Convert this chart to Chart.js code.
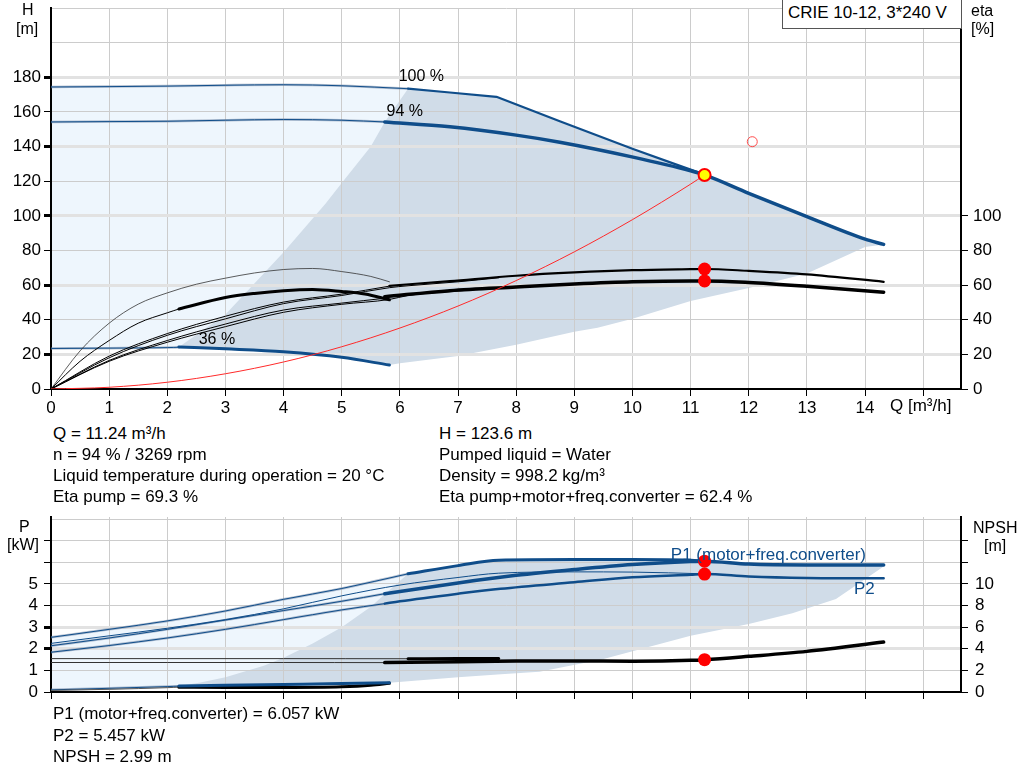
<!DOCTYPE html>
<html>
<head>
<meta charset="utf-8">
<script src="https://cdn.jsdelivr.net/npm/chart.js@4.4.1/dist/chart.umd.min.js"></script>
<style>
  body { margin: 0; background: #fff; width: 1024px; height: 781px; overflow: hidden; position: relative;
         font-family: "Liberation Sans", Arial, sans-serif; font-size: 17px; color: #000; }
  canvas { position: absolute; left: 0; }
  .t { position: absolute; white-space: nowrap; line-height: 18px; }
  .s { font-size: 16px; }
  .box { position: absolute; left: 782px; top: -1px; width: 173px; height: 28px; border: 1px solid #555;
         background: #fff; padding-left: 5px; line-height: 18px; box-sizing: content-box; }
  .box span { position: relative; top: 4px; }
</style>
</head>
<body>
<canvas id="hq" width="1024" height="420" style="top:0"></canvas>
<canvas id="pq" width="1024" height="200" style="top:505px"></canvas>

<div class="box"><span>CRIE 10-12, 3*240 V</span></div>

<div class="t s" style="left:22px;top:1px">H</div>
<div class="t s" style="left:16px;top:20px">[m]</div>
<div class="t s" style="left:971px;top:2px">eta</div>
<div class="t s" style="left:971px;top:20px">[%]</div>
<div class="t" style="left:890px;top:397px">Q [m³/h]</div>

<div class="t" style="left:53px;top:425px">Q = 11.24 m³/h</div>
<div class="t" style="left:53px;top:446px">n = 94 % / 3269 rpm</div>
<div class="t" style="left:53px;top:467px">Liquid temperature during operation = 20 °C</div>
<div class="t" style="left:53px;top:488px">Eta pump = 69.3 %</div>
<div class="t" style="left:439px;top:425px">H = 123.6 m</div>
<div class="t" style="left:439px;top:446px">Pumped liquid = Water</div>
<div class="t" style="left:439px;top:467px">Density = 998.2 kg/m³</div>
<div class="t" style="left:439px;top:488px">Eta pump+motor+freq.converter = 62.4 %</div>

<div class="t s" style="left:19px;top:518px">P</div>
<div class="t s" style="left:7px;top:536px">[kW]</div>
<div class="t s" style="left:973px;top:519px">NPSH</div>
<div class="t s" style="left:984px;top:537px">[m]</div>

<div class="t" style="left:53px;top:705px">P1 (motor+freq.converter) = 6.057 kW</div>
<div class="t" style="left:53px;top:727px">P2 = 5.457 kW</div>
<div class="t" style="left:53px;top:748px">NPSH = 2.99 m</div>

<script>
// ---- tick labels ----
const qTickLabels = [0, 1, 2, 3, 4, 5, 6, 7, 8, 9, 10, 11, 12, 13, 14];
const hTickLabels = [0, 20, 40, 60, 80, 100, 120, 140, 160, 180];
const etaTickLabels = [0, 20, 40, 60, 80, 100];
const pTickLabels = [0, 1, 2, 3, 4, 5];
const pTickMarks = [0, 1, 2, 3, 4, 5, 6, 7];
const npshTickLabels = [0, 2, 4, 6, 8, 10];
const npshTickMarks = [0, 2, 4, 6, 8, 10, 12, 14];

// ---- H-Q curves [Q m3/h, H m] ----
const h100Thin = [[0, 174.4], [1, 174.6], [2, 174.9], [3, 175.4], [4, 175.7], [5, 175.1], [6.14, 173.4]];
const h100Thick = [[6.14, 173.4], [6.86, 171.2], [7.66, 168.7], [8.75, 154.6], [10.01, 138.6], [10.83, 128.7], [11.24, 123.8]];
const h94Thin = [[0, 154.2], [1, 154.4], [2, 154.6], [3, 155.2], [4, 155.6], [5, 155.2], [5.74, 154.2]];
const h94Thick = [[5.74, 154.2], [6.86, 151.4], [8, 146.6], [8.75, 142.5], [10.01, 133.9], [11, 126], [11.24, 123.6],
                  [12, 113], [13, 99.5], [14, 86.5], [14.32, 83.5]];
const h36Thin = [[0, 23.4], [1, 23.6], [2, 23.9], [2.2, 24.1]];
const h36Thick = [[2.2, 24.3], [3, 23.2], [4, 21.5], [5, 18.3], [5.82, 13.8]];
const systemCurve = [[0, 0], [1, 1], [2, 3.9], [3, 8.8], [4, 15.6], [5, 24.4], [6, 35.2], [7, 47.9], [8, 62.6],
                     [9, 79.2], [10, 97.8], [11, 118.3], [11.24, 123.6]];

// operating ranges (outline of the areas)
const hRangeLight = [[0, 23.4], [2.2, 24.3], [3, 23.2], [4, 21.5], [5, 18.3], [5.82, 13.8], [6.14, 173.4],
                     [5, 175.1], [4, 175.7], [3, 175.4], [2, 174.9], [1, 174.6], [0, 174.4], [0, 23.4]];
const hRangeDark = [[2.2, 24.3], [3, 43], [4, 79], [4.72, 107], [5, 119], [5.5, 140], [5.74, 154.2], [6.14, 173.4],
                    [6.86, 171.2], [7.66, 168.7], [8.75, 154.6], [10.01, 138.6], [10.83, 128.7], [11.24, 123.6],
                    [12, 113], [13, 99.5], [14, 86.5], [14.32, 83.5], [14, 82], [13, 66.7], [12, 58.3], [11, 50.8],
                    [10, 40.6], [9.4, 35.3], [9, 33], [8, 25.6], [7, 19], [6, 14.8], [5.82, 13.8], [5, 18.3],
                    [4, 21.5], [3, 23.2], [2.2, 24.3]];

// ---- efficiency curves [Q, eta %] ----
const etaPump94Thin = [[0, 0], [1, 19], [2, 32], [3, 42], [4, 50.2], [5, 54.8], [5.82, 59.4]];
const etaPump94Thick = [[5.82, 59.6], [6.86, 62.3], [8, 65.4], [9, 67.3], [10, 68.6], [11, 69.2], [11.24, 69.3],
                        [12, 68.2], [13, 66.2], [14.32, 61.9]];
const etaPump100Thin = [[0, 0], [1, 18], [2, 31], [3, 40.5], [4, 49.3], [5, 54], [5.82, 58.5], [6.14, 59.6],
                        [7, 61.9], [7.7, 64.2]];
const etaTot94Thin = [[0, 0], [1, 16.5], [2, 28], [3, 37.5], [4, 45.6], [5, 49.6], [5.74, 52.4]];
const etaTot94Thick = [[5.74, 53.3], [6.86, 56.8], [8, 58.9], [9, 60.6], [10, 61.9], [11, 62.4], [11.24, 62.4],
                       [12, 61.5], [13, 59.3], [14.32, 55.9]];
const etaTot100Thin = [[0, 0], [1, 16], [2, 27], [3, 36], [4, 44.3], [5, 48.9], [5.82, 51.7], [6.14, 54],
                       [7, 56.6], [7.7, 58.2]];
const etaPump36 = [[0, 0], [0.5, 22], [1, 38], [1.5, 49], [2, 55.5], [2.5, 60.5], [3, 64], [3.5, 67], [4, 69],
                   [4.5, 69.6], [5, 67.8], [5.5, 65], [5.82, 61.9]];
const etaTot36Thin = [[0, 0], [0.5, 16], [1, 28], [1.5, 38], [2, 44], [2.2, 46.2]];
const etaTot36Thick = [[2.2, 46.2], [3, 52.8], [3.5, 55.2], [4, 56.8], [4.5, 57.5], [5, 56.3], [5.4, 54.8], [5.82, 51.5]];

// ---- power curves [Q, P kW] ----
const p1_100Thin = [[0, 2.53], [1, 2.9], [2, 3.29], [3, 3.75], [4, 4.29], [5, 4.79], [6.14, 5.47]];
const p1_100Thick = [[6.14, 5.47], [7, 5.85], [7.7, 6.1], [9, 6.13], [10, 6.13], [11, 6.1], [11.24, 6.057]];
const p1_94Thin = [[0, 2.14], [1, 2.5], [2, 2.9], [3, 3.33], [4, 3.77], [5, 4.2], [5.74, 4.55]];
const p1_94Thick = [[5.74, 4.55], [6, 4.65], [7, 5.05], [8, 5.4], [9, 5.67], [10, 5.9], [11, 6.04], [11.24, 6.057],
                    [12, 5.92], [13, 5.88], [14.32, 5.88]];
const p2_100Thin = [[0, 2.25], [1, 2.6], [2, 2.95], [3, 3.35], [4, 3.85], [5, 4.45], [6, 4.95], [7, 5.3], [7.7, 5.5],
                    [9, 5.56], [10, 5.55], [11.24, 5.47]];
const p2_94Thin = [[0, 1.84], [1, 2.15], [2, 2.5], [3, 2.9], [4, 3.35], [5, 3.8], [5.74, 4.09]];
const p2_94Thick = [[5.74, 4.09], [6, 4.2], [7, 4.55], [7.73, 4.78], [9, 5.08], [10, 5.31], [11, 5.43], [11.24, 5.457],
                    [12, 5.35], [13, 5.28], [14.32, 5.26]];
const p36Thin = [[0, 0.1], [1, 0.17], [2, 0.25], [2.2, 0.27]];
const p36Thick = [[2.2, 0.28], [3, 0.31], [4, 0.35], [5, 0.39], [5.82, 0.43]];
const pRangeLight = [[0, 0.1], [2.2, 0.28], [3, 0.31], [4, 0.35], [5, 0.39], [5.82, 0.43], [6.14, 5.47], [5, 4.79],
                     [4, 4.29], [3, 3.75], [2, 3.29], [1, 2.9], [0, 2.53], [0, 0.1]];
const pRangeDark = [[2.2, 0.28], [2.57, 0.44], [3, 0.68], [3.66, 1.22], [4, 1.58], [4.5, 2.25], [5, 3.0], [5.5, 3.95],
                    [5.74, 4.52], [6.14, 5.47], [7, 5.85], [7.7, 6.1], [9, 6.13], [10, 6.13], [11, 6.1], [11.24, 6.057],
                    [12, 5.92], [13, 5.88], [14.32, 5.88], [14.3, 5.77], [13.5, 4.3], [12.75, 3.65], [12, 3.15],
                    [11, 2.6], [9.47, 1.5], [8.4, 0.94], [7.74, 0.82], [7, 0.68], [5.82, 0.43], [5, 0.39], [4, 0.35],
                    [3, 0.31], [2.2, 0.28]];

// ---- NPSH curves [Q, NPSH m] ----
const npsh100Thin = [[0, 3.09], [2, 3.09], [4, 3.09], [6.14, 3.08]];
const npsh100Thick = [[6.14, 3.08], [7, 3.1], [7.7, 3.1]];
const npsh94Thin = [[0, 2.73], [2, 2.73], [4, 2.73], [5.74, 2.72]];
const npsh94Thick = [[5.74, 2.72], [7, 2.8], [8, 2.86], [9, 2.87], [10, 2.85], [11, 2.93], [11.24, 2.99], [12, 3.3],
                     [13, 3.76], [14.32, 4.62]];
const npsh36Thin = [[0, 0.15], [1, 0.25], [2, 0.4], [2.2, 0.45]];
const npsh36Thick = [[2.2, 0.45], [3, 0.42], [4, 0.42], [5, 0.48], [5.5, 0.62], [5.82, 0.8]];

// ---- duty point ----
const dutyH = [[11.24, 123.6]];
const requestedH = [[12.06, 142.8]];
const dutyEta = [[11.24, 69.3], [11.24, 62.4]];
const dutyP = [[11.24, 6.057], [11.24, 5.457]];
const dutyNpsh = [[11.24, 2.99]];

const FONT = '"Liberation Sans", Arial, sans-serif';
const BLUE = '#0f4d8a';
const HALO = 'rgba(120,140,170,0.55)';
const DARK_AREA = '#d0dce8';
const LIGHT_AREA = '#eef6fd';

Chart.defaults.font.family = FONT;
Chart.defaults.font.size = 17;
Chart.defaults.color = '#000';
Chart.defaults.animation = false;

const pts = arr => arr.map(([x, y]) => ({ x, y }));

function curve(arr, color, width, axis, order = 10) {
  return { data: pts(arr), borderColor: color, borderWidth: width, yAxisID: axis, pointRadius: 0,
           fill: false, cubicInterpolationMode: 'monotone', borderCapStyle: 'round', order };
}
function straight(arr, color, width, axis, order = 10) {
  return { ...curve(arr, color, width, axis, order), cubicInterpolationMode: 'default', tension: 0,
           borderJoinStyle: 'round' };
}
function thinBlue(arr, axis) {
  return [curve(arr, HALO, 2.5, axis, 13), curve(arr, BLUE, 1, axis, 12)];
}
function area(arr, color, axis, order) {
  return { data: pts(arr), borderWidth: 0, borderColor: 'rgba(0,0,0,0)', backgroundColor: color, fill: 'shape',
           yAxisID: axis, pointRadius: 0, tension: 0, order };
}
function dots(arr, bg, border, radius, width, axis) {
  return { data: pts(arr), showLine: false, yAxisID: axis, pointRadius: radius, pointBackgroundColor: bg,
           pointBorderColor: border, pointBorderWidth: width, order: 0 };
}

// draws the curve names at data positions
const curveText = {
  id: 'curveText',
  afterDatasetsDraw(chart, args, opts) {
    const ctx = chart.ctx;
    ctx.save();
    ctx.textBaseline = 'alphabetic';
    for (const l of opts.items || []) {
      ctx.font = l.size + 'px ' + FONT;
      ctx.fillStyle = l.color;
      ctx.fillText(l.text, chart.scales.x.getPixelForValue(l.q), chart.scales[l.axis].getPixelForValue(l.v));
    }
    ctx.restore();
  }
};

const has = (list, c) => c.tick && list.includes(c.tick.value);

function xScale(showLabels, height) {
  return {
    type: 'linear', min: 0, max: 15.65,
    ticks: { stepSize: 1, includeBounds: false, padding: 2, maxRotation: 0, autoSkip: false,
             callback: v => (showLabels && qTickLabels.includes(v)) ? String(v) : '' },
    grid: { color: '#cccccc', lineWidth: 1, tickLength: 7, tickColor: '#000' },
    border: { color: '#000', width: 2 },
    afterFit: s => { s.height = height; s.paddingLeft = 0; s.paddingRight = 0; }
  };
}

function sideScale(pos, max, step, labels, marks, thick, width, padding) {
  const main = pos === 'left';
  return {
    type: 'linear', position: pos, min: 0, max: max,
    ticks: { stepSize: step, includeBounds: false, padding: padding, autoSkip: false,
             callback: v => labels.includes(v) ? String(v) : '' },
    grid: {
      drawOnChartArea: main,
      color: c => has(thick, c) ? '#e2e2e2' : '#cccccc',
      lineWidth: c => has(thick, c) ? 3 : 1,
      tickLength: 7,
      tickColor: c => has(marks, c) ? '#000' : 'rgba(0,0,0,0)'
    },
    border: { color: '#000', width: 2 },
    afterFit: s => { s.width = width; s.paddingTop = 0; s.paddingBottom = 0; }
  };
}

const commonPlugins = {
  legend: { display: false },
  tooltip: { enabled: false },
  filler: { drawTime: 'beforeDraw' }
};

// ---------- H / eta chart ----------
new Chart(document.getElementById('hq'), {
  type: 'line',
  data: {
    datasets: [
      dots(dutyH, '#ffff00', '#ff0000', 6, 2, 'y'),
      dots(requestedH, 'rgba(0,0,0,0)', '#ff4a4a', 5, 1, 'y'),
      dots(dutyEta, '#ff0000', '#ff0000', 6.5, 0, 'yEta'),
      curve(systemCurve, '#ff2a2a', 1, 'y', 9),
      curve(h94Thick, BLUE, 3.5, 'y', 10),
      straight(h100Thick, BLUE, 2.2, 'y', 10),
      curve(h36Thick, BLUE, 3, 'y', 10),
      ...thinBlue(h100Thin, 'y'),
      ...thinBlue(h94Thin, 'y'),
      ...thinBlue(h36Thin, 'y'),
      curve(etaPump94Thick, '#000', 2.2, 'yEta', 10),
      curve(etaTot94Thick, '#000', 3.5, 'yEta', 10),
      curve(etaTot36Thick, '#000', 3, 'yEta', 10),
      curve(etaPump94Thin, '#000', 1, 'yEta', 11),
      curve(etaPump100Thin, '#000', 1, 'yEta', 11),
      curve(etaTot94Thin, '#000', 1, 'yEta', 11),
      curve(etaTot100Thin, '#000', 1, 'yEta', 11),
      curve(etaTot36Thin, '#000', 1, 'yEta', 11),
      curve(etaPump36, '#333', 0.8, 'yEta', 11),
      area(hRangeDark, DARK_AREA, 'y', 100),
      area(hRangeLight, LIGHT_AREA, 'y', 101)
    ]
  },
  options: {
    responsive: false,
    events: [],
    layout: { padding: 0 },
    scales: {
      x: xScale(true, 31),
      y: sideScale('left', 220, 20, hTickLabels, hTickLabels, [20, 60, 100, 140, 180], 51, 3),
      yEta: sideScale('right', 220, 20, etaTickLabels, etaTickLabels, [], 63, 5)
    },
    plugins: {
      ...commonPlugins,
      curveText: { items: [
        { text: '100 %', q: 5.98, v: 177.6, axis: 'y', color: '#000', size: 16 },
        { text: '94 %', q: 5.77, v: 157.8, axis: 'y', color: '#000', size: 16 },
        { text: '36 %', q: 2.54, v: 26.2, axis: 'y', color: '#000', size: 16 }
      ] }
    }
  },
  plugins: [curveText]
});

// ---------- P / NPSH chart ----------
new Chart(document.getElementById('pq'), {
  type: 'line',
  data: {
    datasets: [
      dots(dutyP, '#ff0000', '#ff0000', 6.5, 0, 'y'),
      dots(dutyNpsh, '#ff0000', '#ff0000', 6.5, 0, 'yN'),
      curve(p1_94Thick, BLUE, 3.5, 'y', 10),
      curve(p1_100Thick, BLUE, 3, 'y', 10),
      curve(p2_94Thick, BLUE, 2.5, 'y', 10),
      curve(p36Thick, BLUE, 3, 'y', 10),
      curve(p2_100Thin, BLUE, 1, 'y', 11),
      ...thinBlue(p1_100Thin, 'y'),
      ...thinBlue(p1_94Thin, 'y'),
      ...thinBlue(p2_94Thin, 'y'),
      ...thinBlue(p36Thin, 'y'),
      curve(npsh94Thick, '#000', 3.5, 'yN', 10),
      curve(npsh100Thick, '#000', 3, 'yN', 10),
      curve(npsh36Thick, '#000', 3, 'yN', 10),
      curve(npsh100Thin, '#333', 1, 'yN', 11),
      curve(npsh94Thin, '#333', 1, 'yN', 11),
      curve(npsh36Thin, '#555', 1, 'yN', 11),
      area(pRangeDark, DARK_AREA, 'y', 100),
      area(pRangeLight, LIGHT_AREA, 'y', 101)
    ]
  },
  options: {
    responsive: false,
    events: [],
    layout: { padding: { top: 12 } },
    scales: {
      x: xScale(false, 13),
      y: sideScale('left', 8.1, 1, pTickLabels, pTickMarks, [2, 3], 51, 6),
      yN: sideScale('right', 16.2, 2, npshTickLabels, npshTickMarks, [], 63, 7)
    },
    plugins: {
      ...commonPlugins,
      curveText: { items: [
        { text: 'P1 (motor+freq.converter)', q: 10.66, v: 6.1, axis: 'y', color: BLUE, size: 17 },
        { text: 'P2', q: 13.81, v: 4.53, axis: 'y', color: BLUE, size: 17 }
      ] }
    }
  },
  plugins: [curveText]
});
</script>
</body>
</html>
